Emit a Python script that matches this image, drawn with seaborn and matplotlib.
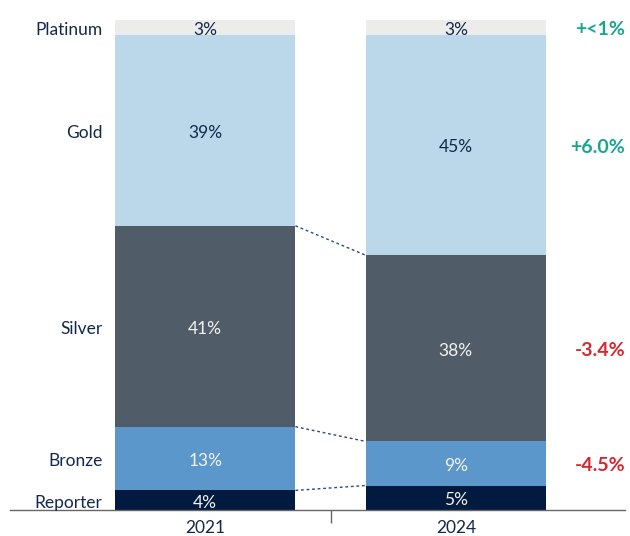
import matplotlib
matplotlib.use("Agg")
import matplotlib.pyplot as plt
import seaborn as sns
import numpy as np
import pandas as pd

years = ["2021", "2024"]
tiers = ["Reporter", "Bronze", "Silver", "Gold", "Platinum"]
share_2021 = [4, 13, 41, 39, 3]
share_2024 = [5, 9, 38, 45, 3]
change_labels = ["", "-4.5%", "-3.4%", "+6.0%", "+<1%"]

colors = ["#001a40", "#5b97cb", "#505d69", "#bad8ea", "#ecedea"]
text_colors = ["#f2f2f2", "#f2f2f2", "#f2f2f2", "#13294b", "#13294b"]
change_colors = ["#000000", "#d7262e", "#d7262e", "#1aa58e", "#1aa58e"]
navy = "#13294b"

sns.set_theme(style="white")
plt.rcParams["font.family"] = ["Lato", "DejaVu Sans"]

fig = plt.figure(figsize=(6.3, 5.36), dpi=100)
ax = fig.add_axes([10/630, 26/536, (625-10)/630, 490/536])

cum21 = np.cumsum(share_2021)
cum24 = np.cumsum(share_2024)
width = 0.72
dy = 0.5  # small downward nudge of labels (data units)

# draw cumulative bars from top tier down (overlay stacking)
for i in range(len(tiers) - 1, -1, -1):
    df = pd.DataFrame({"year": years, "cum": [cum21[i], cum24[i]]})
    sns.barplot(data=df, x="year", y="cum", color=colors[i], saturation=1,
                width=width, linewidth=0, edgecolor="none", ax=ax, errorbar=None)

# segment labels
for i, t in enumerate(tiers):
    for xi, (vals, cum) in enumerate([(share_2021, cum21), (share_2024, cum24)]):
        yc = cum[i] - vals[i] / 2 - dy
        ax.text(xi, yc, f"{vals[i]}%", ha="center", va="center",
                fontsize=12.5, color=text_colors[i])
    # left tier label (at 2021 segment centre)
    ax.text(-0.41, cum21[i] - share_2021[i] / 2 - dy, t, ha="right", va="center",
            fontsize=12.5, color=navy)
    # right change label (at 2024 segment centre)
    if change_labels[i]:
        ax.text(1.675, cum24[i] - share_2024[i] / 2 - dy, change_labels[i], ha="right",
                va="center", fontsize=14, fontweight="bold", color=change_colors[i])

# dotted connectors
for i in range(3):
    ax.plot([width / 2, 1 - width / 2], [cum21[i], cum24[i]], linestyle=(0, (2, 2)),
            color="#2c4a72", linewidth=1)

ax.set_xlim(-0.779, 1.675)
ax.set_ylim(0, 100)
ax.set_yticks([])
ax.set_xlabel("")
ax.set_ylabel("")
for s in ["top", "right", "left"]:
    ax.spines[s].set_visible(False)
ax.spines["bottom"].set_color("#666666")
ax.spines["bottom"].set_linewidth(1)
ax.set_xticks([0, 1])
ax.set_xticklabels(years, fontsize=12.5, color=navy)
ax.tick_params(axis="x", which="major", bottom=True, length=0, pad=7)
ax.set_xticks([0.5], minor=True)
ax.tick_params(axis="x", which="minor", bottom=True, length=9, width=1,
               color="#666666", direction="out")

fig.savefig("out.png", dpi=100)
